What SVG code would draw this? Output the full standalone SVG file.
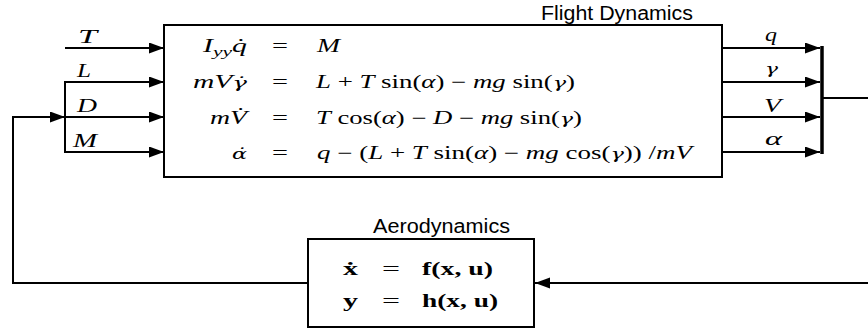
<svg xmlns="http://www.w3.org/2000/svg" width="868" height="331" viewBox="0 0 868 331">
<style>
.box{fill:#fff;stroke:#000;stroke-width:2}
.ln{fill:none;stroke:#000;stroke-width:2}
.title{font-family:"Liberation Sans",Arial,sans-serif;font-size:20px;fill:#000}
.m{font-family:"Liberation Serif","Times New Roman",serif;font-size:18px;fill:#000}
.i{font-style:italic}
.b{font-weight:bold}
.dv{font-family:"DejaVu Serif",serif;font-size:15px;font-style:italic}
</style>
<defs>
<marker id="ah" markerUnits="userSpaceOnUse" markerWidth="16" markerHeight="12" refX="15" refY="5.5" orient="auto">
<path d="M0,0 L15,5.5 L0,11 z" fill="#000"/>
</marker>
</defs>

<g id="connectors">
<line class="ln" x1="65" y1="48" x2="164" y2="48" marker-end="url(#ah)"/>
<line class="ln" x1="65" y1="81" x2="65" y2="153"/>
<line class="ln" x1="65" y1="82" x2="164" y2="82" marker-end="url(#ah)"/>
<line class="ln" x1="65" y1="117" x2="164" y2="117" marker-end="url(#ah)"/>
<line class="ln" x1="65" y1="152" x2="164" y2="152" marker-end="url(#ah)"/>
<polyline class="ln" points="308,283 13,283 13,117 65,117" marker-end="url(#ah)"/>
<line class="ln" x1="722" y1="48" x2="820" y2="48" marker-end="url(#ah)"/>
<line class="ln" x1="722" y1="82" x2="820" y2="82" marker-end="url(#ah)"/>
<line class="ln" x1="722" y1="117" x2="820" y2="117" marker-end="url(#ah)"/>
<line class="ln" x1="722" y1="152" x2="820" y2="152" marker-end="url(#ah)"/>
<line x1="822" y1="46" x2="822" y2="154" stroke="#000" stroke-width="3.5"/>
<line x1="823" y1="98" x2="868" y2="98" stroke="#000" stroke-width="1.8"/>
<line class="ln" x1="868" y1="283" x2="535" y2="283" marker-end="url(#ah)"/>
<text class="m i" x="78" y="43" textLength="19" lengthAdjust="spacingAndGlyphs">T</text>
<text class="m i" x="77" y="77" textLength="14" lengthAdjust="spacingAndGlyphs">L</text>
<text class="m i" x="77" y="112" textLength="20" lengthAdjust="spacingAndGlyphs">D</text>
<text class="m i" x="73" y="147" textLength="24" lengthAdjust="spacingAndGlyphs">M</text>
<text class="m i" x="765" y="41" textLength="12" lengthAdjust="spacingAndGlyphs">q</text>
<text class="m" x="765" y="74" textLength="13" lengthAdjust="spacingAndGlyphs"><tspan class="dv">γ</tspan></text>
<text class="m i" x="764" y="112" textLength="17" lengthAdjust="spacingAndGlyphs">V</text>
<text class="m i" x="765" y="145" textLength="17" lengthAdjust="spacingAndGlyphs">α</text>
</g>

<g id="flight-dynamics">
<rect class="box" x="164" y="25" width="558" height="152"/>
<text class="title" x="541" y="20" textLength="152" lengthAdjust="spacingAndGlyphs">Flight Dynamics</text>
<text class="m i" x="247" y="52" text-anchor="end" textLength="44" lengthAdjust="spacingAndGlyphs">I<tspan font-size="13" dy="4">yy</tspan><tspan dy="-4">q̇</tspan></text>
<text class="m i" x="247" y="88" text-anchor="end" textLength="54" lengthAdjust="spacingAndGlyphs">mV<tspan class="dv">γ̇</tspan></text>
<text class="m i" x="247" y="124" text-anchor="end" textLength="37" lengthAdjust="spacingAndGlyphs">mV̇</text>
<text class="m i" x="247" y="159" text-anchor="end" textLength="15" lengthAdjust="spacingAndGlyphs"><tspan class="dv">α̇</tspan></text>
<text class="m" x="272" y="52" textLength="16" lengthAdjust="spacingAndGlyphs">=</text>
<text class="m" x="272" y="88" textLength="16" lengthAdjust="spacingAndGlyphs">=</text>
<text class="m" x="272" y="124" textLength="16" lengthAdjust="spacingAndGlyphs">=</text>
<text class="m" x="272" y="159" textLength="16" lengthAdjust="spacingAndGlyphs">=</text>
<text class="m" x="317" y="52" textLength="23" lengthAdjust="spacingAndGlyphs"><tspan class="i">M</tspan></text>
<text class="m" x="316" y="88" textLength="259" lengthAdjust="spacingAndGlyphs"><tspan class="i">L</tspan> + <tspan class="i">T</tspan> sin(<tspan class="i">α</tspan>) − <tspan class="i">mg</tspan> sin(<tspan class="dv">γ</tspan>)</text>
<text class="m" x="316" y="124" textLength="266" lengthAdjust="spacingAndGlyphs"><tspan class="i">T</tspan> cos(<tspan class="i">α</tspan>) − <tspan class="i">D</tspan> − <tspan class="i">mg</tspan> sin(<tspan class="dv">γ</tspan>)</text>
<text class="m" x="317" y="159" textLength="375" lengthAdjust="spacingAndGlyphs"><tspan class="i">q</tspan> − (<tspan class="i">L</tspan> + <tspan class="i">T</tspan> sin(<tspan class="i">α</tspan>) − <tspan class="i">mg</tspan> cos(<tspan class="dv">γ</tspan>)) /<tspan class="i">mV</tspan></text>
</g>

<g id="aerodynamics">
<rect class="box" x="308" y="239" width="226" height="88"/>
<text class="title" x="373" y="233" textLength="137" lengthAdjust="spacingAndGlyphs">Aerodynamics</text>
<text class="m b" x="343" y="275" textLength="15" lengthAdjust="spacingAndGlyphs">ẋ</text>
<text class="m b" x="343" y="307" textLength="15" lengthAdjust="spacingAndGlyphs">y</text>
<text class="m" x="382" y="275" textLength="18" lengthAdjust="spacingAndGlyphs">=</text>
<text class="m" x="382" y="307" textLength="18" lengthAdjust="spacingAndGlyphs">=</text>
<text class="m b" x="422" y="275" textLength="71" lengthAdjust="spacingAndGlyphs">f(x, u)</text>
<text class="m b" x="422" y="307" textLength="76" lengthAdjust="spacingAndGlyphs">h(x, u)</text>
</g>
</svg>
